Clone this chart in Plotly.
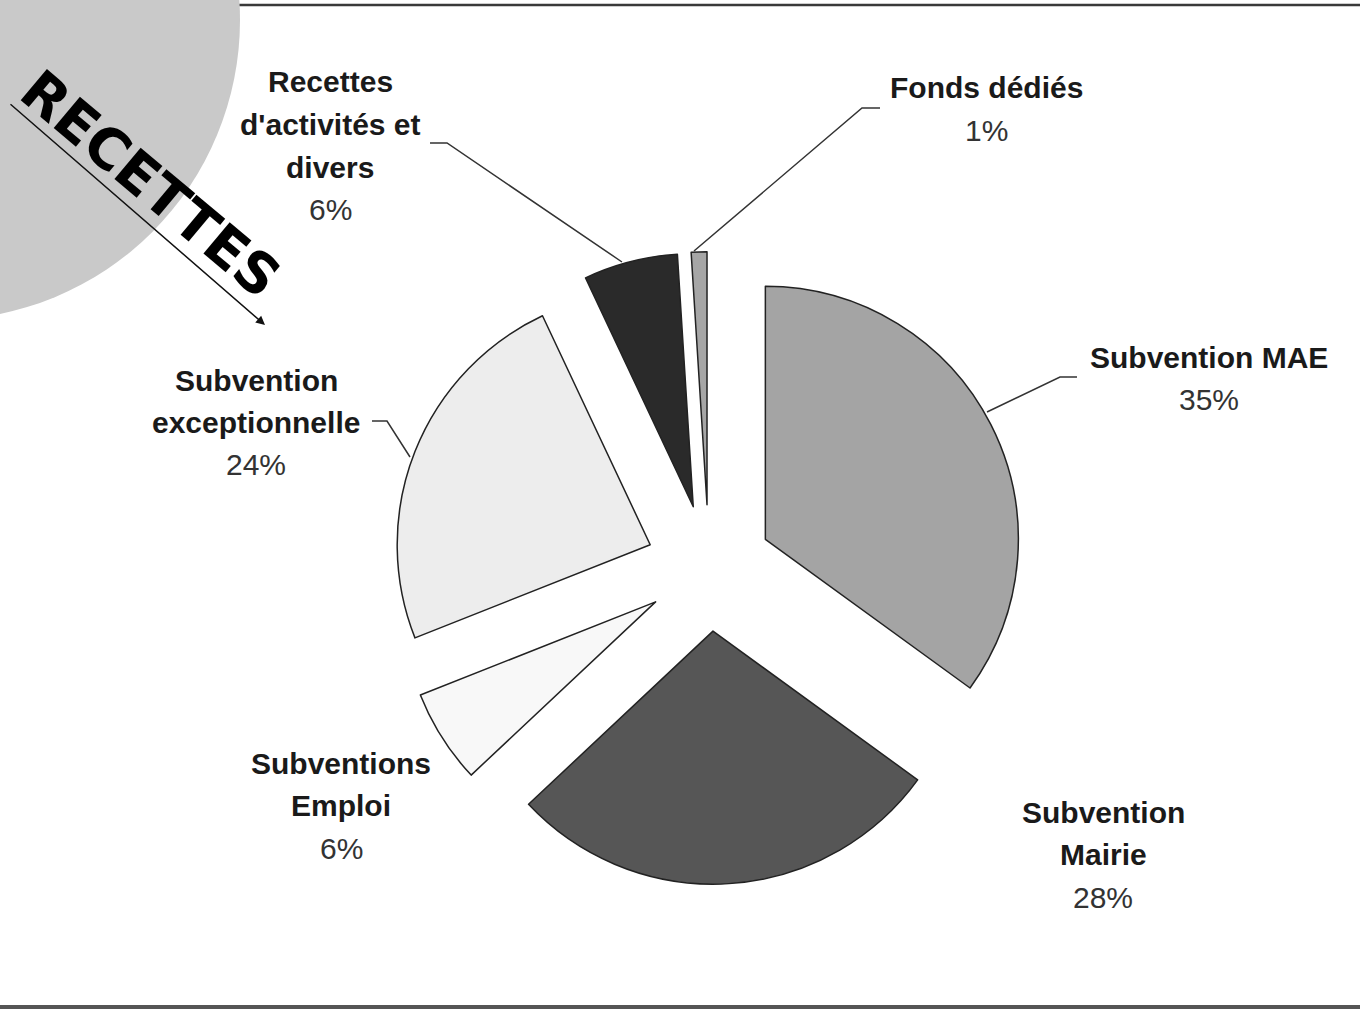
import plotly.graph_objects as go

W, H = 1360, 1010

# ---- data ----
categories = ["Subvention MAE", "Subvention Mairie", "Subventions Emploi",
              "Subvention exceptionnelle", "Recettes d'activités et divers", "Fonds dédiés"]
values = [35, 28, 6, 24, 6, 1]
pct_labels = ["35%", "28%", "6%", "24%", "6%", "1%"]
name_lines = [["Subvention MAE"], ["Subvention", "Mairie"], ["Subventions", "Emploi"],
              ["Subvention", "exceptionnelle"], ["Recettes", "d'activités et", "divers"],
              ["Fonds dédiés"]]
colors = ["#a4a4a4", "#565656", "#f8f8f8", "#ededed", "#2a2a2a", "#a6a6a6"]

# ---- layout helpers (pixel -> paper) ----
def px(x):
    return x / W

def py(y):
    return 1 - y / H

# pie geometry
cx, cy, R, pull = 709, 568, 253, 0.25
half = R * (1 + pull)

fig = go.Figure(go.Pie(
    labels=categories, values=values, sort=False, direction="clockwise", rotation=0,
    pull=[pull] * len(values),
    marker=dict(colors=colors, line=dict(color="#222222", width=1.5)),
    textinfo="none", hoverinfo="label+percent", showlegend=False,
    domain=dict(x=[px(cx - half), px(cx + half)], y=[py(cy + half), py(cy - half)]),
))

# label placement (text centre x, first line y) in pixels
label_pos = [(1209, 357), (1103, 812), (341, 763), (256, 380), (330, 82), (986, 88)]
line_step = 42.5
annotations = []
for (lx, ly), lines, pct in zip(label_pos, name_lines, pct_labels):
    for i, t in enumerate(lines):
        annotations.append(dict(
            x=px(lx), y=py(ly + i * line_step), xref="paper", yref="paper",
            text="<b>" + t + "</b>", showarrow=False, xanchor="center", yanchor="middle",
            font=dict(family="Liberation Sans, Arial, sans-serif", size=30, color="#1a1a1a")))
    annotations.append(dict(
        x=px(lx), y=py(ly + len(lines) * line_step), xref="paper", yref="paper",
        text=pct, showarrow=False, xanchor="center", yanchor="middle",
        font=dict(family="Liberation Sans, Arial, sans-serif", size=30, color="#333333")))

# decorative title
annotations.append(dict(
    x=px(150), y=py(184), xref="paper", yref="paper", text="<b>RECETTES</b>",
    showarrow=False, textangle=40, xanchor="center", yanchor="middle",
    font=dict(family="DejaVu Sans, sans-serif", size=56, color="#000000")))
annotations.append(dict(
    x=px(265), y=py(325), xref="paper", yref="paper", text="",
    showarrow=True, ax=9 - 265, ay=103 - 325, axref="pixel", ayref="pixel",
    arrowhead=2, arrowsize=1.2, arrowwidth=1.5, arrowcolor="#111111"))

# leader lines (pixel polylines)
leaders = [
    [(1077, 377), (1060, 377), (987, 412)],
    [(372, 421), (387, 421), (410, 457)],
    [(430, 143), (447, 143), (622, 262)],
    [(880, 108), (862, 108), (694, 251)],
]
shapes = [
    dict(type="line", xref="paper", yref="paper", x0=0, x1=1, y0=py(5), y1=py(5),
         line=dict(color="#3a3a3a", width=2.5)),
    dict(type="line", xref="paper", yref="paper", x0=0, x1=1, y0=py(1007), y1=py(1007),
         line=dict(color="#555555", width=4)),
    dict(type="circle", xref="paper", yref="paper", x0=px(-360), x1=px(240),
         y0=py(320), y1=py(-280), fillcolor="#c9c9c9", line=dict(width=0)),
]
for pts in leaders:
    path = "M " + " L ".join(f"{px(x):.5f},{py(y):.5f}" for x, y in pts)
    shapes.append(dict(type="path", xref="paper", yref="paper", path=path,
                       line=dict(color="#333333", width=1.5)))

fig.update_layout(
    width=W, height=H, margin=dict(l=0, r=0, t=0, b=0),
    paper_bgcolor="white", plot_bgcolor="white",
    annotations=annotations, shapes=shapes,
)

fig.write_html("out.html", config={"displayModeBar": False},
               post_script="document.body.style.margin='0';document.body.style.overflow='hidden';")
